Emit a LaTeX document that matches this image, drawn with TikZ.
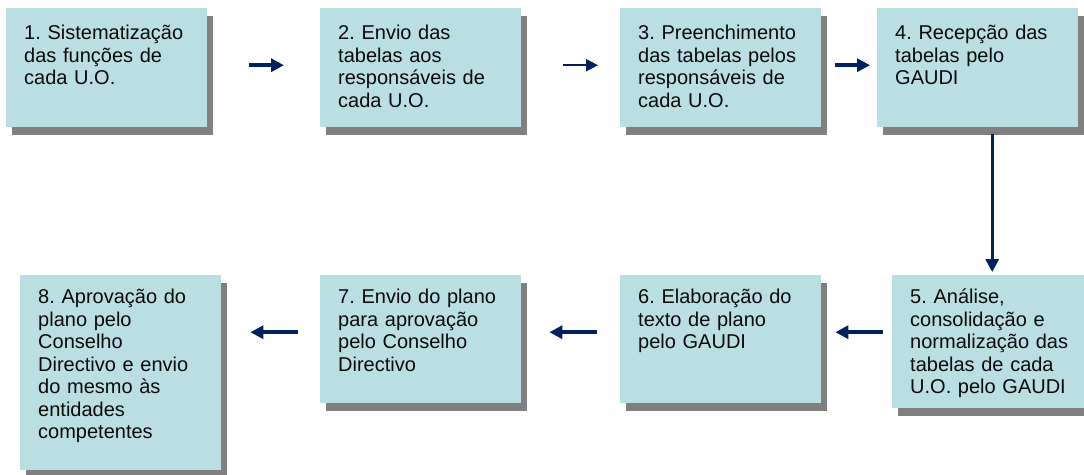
\documentclass[tikz,border=0pt]{standalone}
\usepackage{fontspec}
\setmainfont{Liberation Sans}
\usetikzlibrary{arrows.meta,shadows}
\definecolor{boxfill}{RGB}{186,223,227}
\definecolor{shadowgray}{RGB}{128,128,128}
\definecolor{navy}{RGB}{0,32,96}
\definecolor{txt}{RGB}{10,10,10}
\frenchspacing
\tikzset{
  proc/.style={anchor=north west, fill=boxfill, inner xsep=18pt, inner ysep=0pt,
    text width=165pt, align=left, text=txt,
    font=\fontsize{20}{22.5}\selectfont\frenchspacing,
    drop shadow={shadow xshift=5.5pt, shadow yshift=-7.5pt, fill=shadowgray, opacity=1}},
  toprow/.style={proc, text height=31.3pt},
  botrow/.style={proc, text height=28.3pt},
  arr/.style={draw=navy, line width=3.8pt, -{Triangle[length=13pt,width=13pt]}},
  thinarr/.style={draw=navy, line width=2.2pt, -{Triangle[length=12pt,width=12pt]}}
}
\begin{document}
\begin{tikzpicture}[x=1pt,y=-1pt]
\clip (0,0) rectangle (1084,474);
\useasboundingbox (0,0) rectangle (1084,474);
\fill[white] (0,0) rectangle (1084,474);
\node[toprow, text depth=87.7pt] (b1) at (6,8) {1. Sistematização\\das funções de\\cada U.O.};
\node[toprow, text depth=87.7pt] (b2) at (320,8) {2. Envio das\\tabelas aos\\responsáveis de\\cada U.O.};
\node[toprow, text depth=87.7pt] (b3) at (620,8) {3. Preenchimento\\das tabelas pelos\\responsáveis de\\cada U.O.};
\node[toprow, text depth=87.7pt] (b4) at (877,8) {4. Recepção das\\tabelas pelo\\GAUDI};
\node[botrow, text depth=104.7pt] (b5) at (892,275) {5. Análise,\\consolidação e\\normalização das\\tabelas de cada\\U.O. pelo GAUDI};
\node[botrow, text depth=99.7pt] (b6) at (620,275) {6. Elaboração do\\texto de plano\\pelo GAUDI};
\node[botrow, text depth=99.7pt] (b7) at (320,275) {7. Envio do plano\\para aprovação\\pelo Conselho\\Directivo};
\node[botrow, text depth=166.7pt] (b8) at (20,275) {8. Aprovação do\\plano pelo\\Conselho\\Directivo e envio\\do mesmo às\\entidades\\competentes};
% top row arrows
\draw[arr, shorten <=42pt, shorten >=36pt] ([yshift=2.5pt]b1.east) -- ([yshift=2.5pt]b1.east -| b2.west);
\draw[thinarr, shorten <=42pt, shorten >=22pt] ([yshift=2.5pt]b2.east) -- ([yshift=2.5pt]b2.east -| b3.west);
\draw[arr, shorten <=14pt, shorten >=7pt] ([yshift=2.5pt]b3.east) -- ([yshift=2.5pt]b3.east -| b4.west);
% down arrow
\draw[arr, line width=3pt, shorten <=7pt, shorten >=3pt] ([xshift=14.5pt]b4.south) -- ([xshift=14.5pt]b4.south |- b5.north);
% bottom row arrows
\draw[arr, shorten <=9pt, shorten >=14pt] ([yshift=9.5pt]b5.west) -- ([yshift=9.5pt]b5.west -| b6.east);
\draw[arr, shorten <=23pt, shorten >=28pt] ([yshift=7pt]b6.west) -- ([yshift=7pt]b6.west -| b7.east);
\draw[arr, shorten <=22pt, shorten >=29pt] ([yshift=7pt]b7.west) -- ([yshift=7pt]b7.west -| b8.east);
\end{tikzpicture}
\end{document}
